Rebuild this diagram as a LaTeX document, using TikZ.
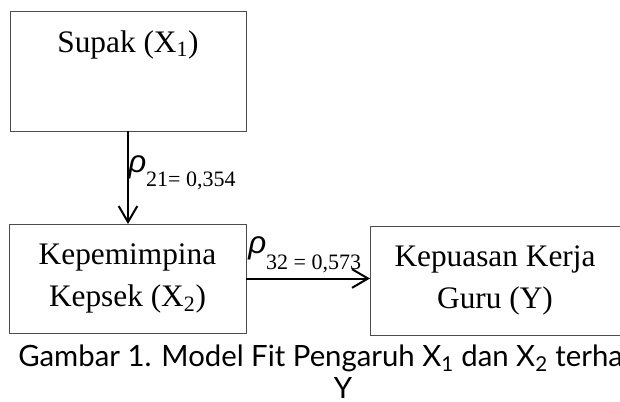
\documentclass[tikz,border=0pt]{standalone}
\usepackage{fontspec}
\setmainfont{Liberation Serif}
\newfontfamily\captionfont{Lato}
\newfontfamily\rhofont{Liberation Sans}
\usetikzlibrary{arrows.meta}

\tikzset{
  varbox/.style={draw=black!70, line width=0.75pt, inner sep=0pt, outer sep=0pt,
    align=center, font=\fontsize{23.5}{31.5}\selectfont},
  boxtext/.style={inner sep=0pt, align=center, font=\fontsize{23.5}{31.5}\selectfont},
  pathline/.style={line width=1.5pt, -{Straight Barb[length=12pt,width=14pt]}},
  coef/.style={anchor=base west, inner sep=0pt},
}

\begin{document}
\begin{tikzpicture}[x=0.75pt,y=0.75pt,yscale=-1,xscale=1]
\useasboundingbox (0,0) rectangle (620,401);
\clip (0,0) rectangle (620,401);
%Shape: Rectangle [supak]
\node [varbox, minimum width=177pt, minimum height=90pt] (supak) at (128,71) {};
% Text Node
\node [boxtext, anchor=base] (supakText) at (128,52) {Supak (X\textsubscript{1})};
%Shape: Rectangle [kepemimpinan]
\node [varbox, minimum width=177.75pt, minimum height=81.75pt] (kepemimpinan) at (127.5,278.5) {Kepemimpina\\Kepsek (X\textsubscript{2})};
%Shape: Rectangle [kepuasan], right side runs past the edge
\node [varbox, minimum width=210pt, minimum height=81.75pt] (kepuasan) at (510,280.5) {};
% Text Node
\node [boxtext] (kepuasanText) at (495,280.5) {Kepuasan Kerja\\Guru (Y)};
%Straight Lines
\draw [pathline] (supak.south) -- (supak.south |- kepemimpinan.north);
\draw [pathline] (kepemimpinan.east) -- (kepemimpinan.east -| kepuasan.west);
% Text Node
\node [coef] (rhoA) at (128,172) {\fontsize{23.5}{28}\selectfont\rhofont\itshape ρ\rmfamily\upshape\raisebox{-11pt}{\fontsize{16.5}{20}\selectfont 21= 0,354}};
% Text Node
\node [coef] (rhoB) at (248,253) {\fontsize{23.5}{28}\selectfont\rhofont\itshape ρ\rmfamily\upshape\raisebox{-12pt}{\fontsize{16.5}{20}\selectfont 32 = 0,573}};
% Text Node
\node [anchor=base west, inner sep=0pt, font=\captionfont\fontsize{22}{26}\selectfont] (caption) at (18,366) {Gambar 1. Model Fit Pengaruh X\textsubscript{1} dan X\textsubscript{2} terha};
\node [anchor=base, inner sep=0pt, font=\captionfont\fontsize{22}{26}\selectfont] (captionY) at (343,398) {Y};
\end{tikzpicture}
\end{document}
